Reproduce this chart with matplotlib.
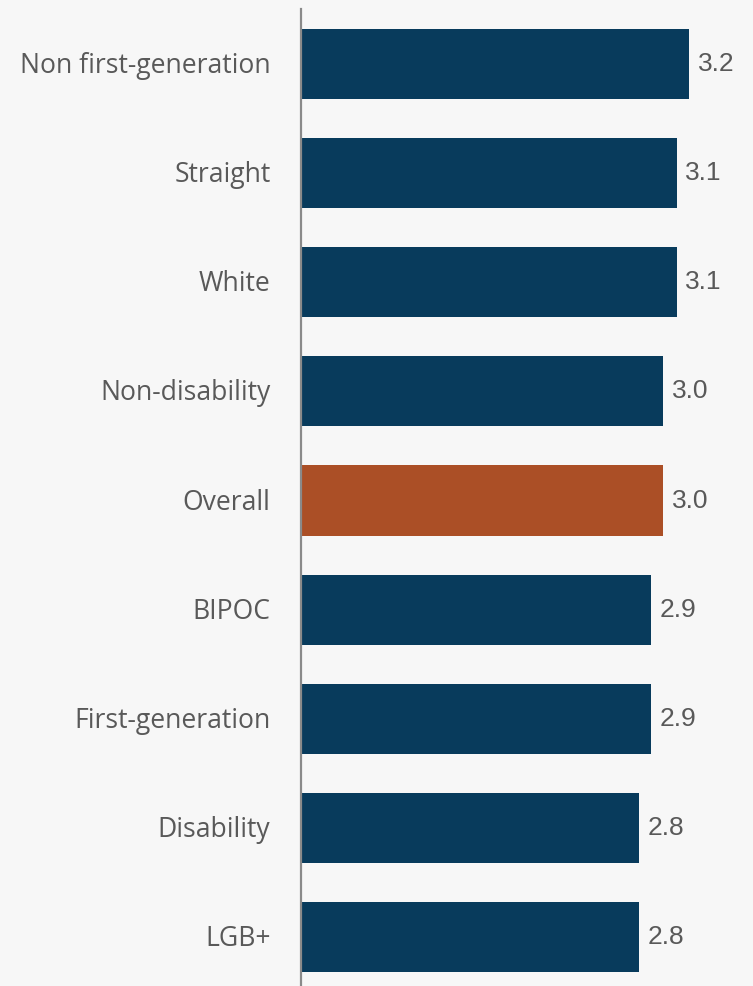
import matplotlib
matplotlib.use("Agg")
import matplotlib.pyplot as plt
from matplotlib.transforms import ScaledTranslation

categories = ["Non first-generation", "Straight", "White", "Non-disability", "Overall",
              "BIPOC", "First-generation", "Disability", "LGB+"]
values = [3.21, 3.11, 3.11, 3.0, 3.0, 2.9, 2.9, 2.8, 2.8]
value_labels = ["3.2", "3.1", "3.1", "3.0", "3.0", "2.9", "2.9", "2.8", "2.8"]
highlight = "Overall"

BG = "#f7f7f7"
BLUE = "#083b5c"
ORANGE = "#ab4f26"
TEXT = "#595959"

fig = plt.figure(figsize=(7.53, 9.86), dpi=100, facecolor=BG)
ax = fig.add_axes([301 / 753, 0, 1 - 301 / 753, (986 - 9) / 986])
ax.set_facecolor(BG)

colors = [ORANGE if c == highlight else BLUE for c in categories]
ypos = list(range(len(categories)))
ax.barh(ypos, values, height=0.642, color=colors)

ax.set_xlim(0, 452 / 120.8)
ax.set_ylim(8.45, -0.505)

ax.set_yticks(ypos)
ax.set_yticklabels(categories, fontsize=19.1, color=TEXT, family=["Open Sans", "DejaVu Sans"])
ax.tick_params(axis="y", length=0, pad=22)
shift = ScaledTranslation(0, -2.0 / 100, fig.dpi_scale_trans)
for t in ax.get_yticklabels():
    t.set_va("center")
    t.set_transform(t.get_transform() + shift)
ax.set_xticks([])

for sp in ["top", "right", "bottom"]:
    ax.spines[sp].set_visible(False)
ax.spines["left"].set_color("#8a8a8a")
ax.spines["left"].set_linewidth(1.6)

for y, v, lab in zip(ypos, values, value_labels):
    ax.annotate(lab, (v, y), xytext=(6.3, 0), textcoords="offset points",
                va="center", ha="left", fontsize=19, color=TEXT,
                family=["Liberation Sans", "DejaVu Sans"])

fig.savefig("out.png", dpi=100, facecolor=BG)
